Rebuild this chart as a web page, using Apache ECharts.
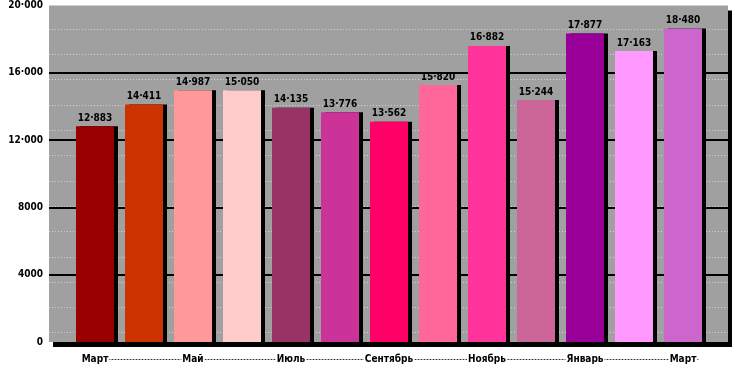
<!DOCTYPE html>
<html>
<head>
<meta charset="utf-8">
<script src="https://cdn.jsdelivr.net/npm/echarts@6/dist/echarts.min.js"></script>
<style>
html,body{margin:0;padding:0;background:#fff;}
#c{width:750px;height:375px;}
</style>
</head>
<body>
<div id="c"></div>
<script>
// Categories (months)
var categories = ['Март','Апрель','Май','Июнь','Июль','Август','Сентябрь','Октябрь','Ноябрь','Декабрь','Январь','Февраль','Март'];
// Bar heights as drawn in the picture
var values = [12830, 14120, 14970, 14970, 13920, 13650, 13090, 15270, 17600, 14380, 18340, 17290, 18640];
// Value labels printed above the bars
var valueLabels = ['12·883','14·411','14·987','15·050','14·135','13·776','13·562','15·820','16·882','15·244','17·877','17·163','18·480'];
// Bar colours
var barColors = ['#990000','#CC3300','#FF9999','#FFCCCC','#993366','#CC3399','#FF0066','#FF6699','#FF3399','#CC6699','#990099','#FF99FF','#CC66CC'];
// Y axis tick labels (0..20000 step 4000)
var yTickLabels = ['0','4000','8000','12·000','16·000','20·000'];

var FONT = '"DejaVu Sans Condensed", "Liberation Sans Narrow", sans-serif';

var chart = echarts.init(document.getElementById('c'), null, {renderer:'canvas'});
chart.setOption({
  animation: false,
  backgroundColor: '#ffffff',
  grid: [
    {left:49, right:22, top:5.5, bottom:33, show:true, backgroundColor:'#a0a0a0', borderWidth:0,
     shadowColor:'#000', shadowBlur:0, shadowOffsetX:4, shadowOffsetY:5, z:-1},
    {left:70.5, right:42.5, top:5.5, bottom:33},
    {left:49, right:22, top:29, bottom:42.3},
    {left:94, right:52, top:359, bottom:16}
  ],
  xAxis: [
    {gridIndex:0, type:'value', show:false},
    {gridIndex:1, type:'category', data:categories, z:10,
     axisLine:{show:false}, axisTick:{show:false},
     axisLabel:{interval:1, margin:11, fontFamily:FONT, fontWeight:'bold', fontSize:10, lineHeight:12,
       color:'#000', backgroundColor:'#fff', padding:[0,1]}},
    {gridIndex:2, type:'value', show:false},
    {gridIndex:3, type:'value', min:0, max:1, z:1,
     axisLine:{show:true, lineStyle:{color:'#333', width:1, type:[1,2]}},
     axisTick:{show:false}, axisLabel:{show:false}, splitLine:{show:false}}
  ],
  yAxis: [
    {gridIndex:0, type:'value', min:0, max:20000, interval:4000, z:3,
     axisLine:{show:false}, axisTick:{show:false},
     axisLabel:{margin:6, fontFamily:FONT, fontWeight:'bold', fontSize:10, color:'#000',
       formatter:function(v){ return yTickLabels[Math.round(v/4000)]; }},
     splitLine:{show:true, lineStyle:{color:['transparent','#000','#000','#000','#000','transparent'], width:2}}},
    {gridIndex:1, type:'value', min:0, max:20000, show:false, splitLine:{show:false}},
    {gridIndex:2, type:'value', min:0, max:12, interval:1, z:1,
     axisLine:{show:false}, axisTick:{show:false}, axisLabel:{show:false},
     splitLine:{show:true, lineStyle:{color:'#d2d2d2', width:1, type:[1,2]}}},
    {gridIndex:3, type:'value', show:false}
  ],
  series: [{
    type:'bar',
    xAxisIndex:1, yAxisIndex:1,
    barWidth:38,
    z:5,
    data: values.map(function(v,i){
      return {value:v, itemStyle:{color:barColors[i]}};
    }),
    itemStyle:{shadowColor:'#000', shadowBlur:0, shadowOffsetX:4, shadowOffsetY:0},
    label:{show:true, position:'top', distance:3, fontFamily:FONT, fontWeight:'bold', fontSize:10, color:'#000',
      formatter:function(p){ return valueLabels[p.dataIndex]; }}
  }]
});
</script>
</body>
</html>
